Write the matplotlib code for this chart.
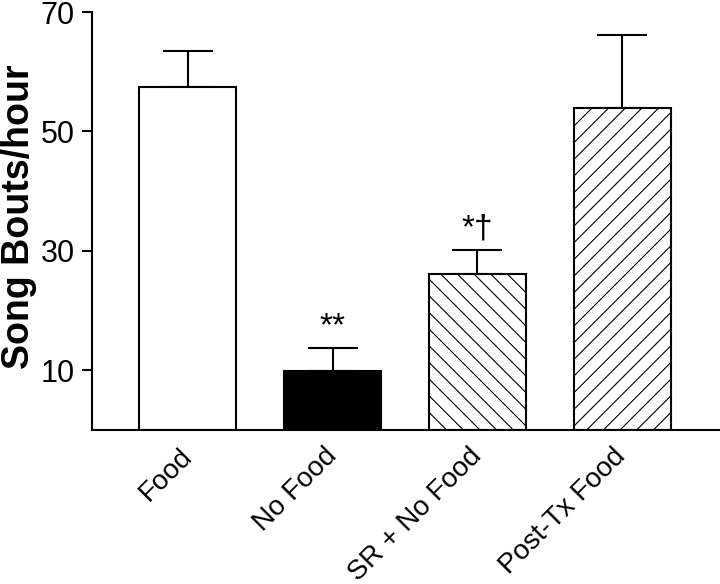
import numpy as np
import matplotlib
matplotlib.use("Agg")
import matplotlib.pyplot as plt

plt.rcParams["font.family"] = ["Liberation Sans", "DejaVu Sans"]
plt.rcParams["hatch.linewidth"] = 0.8

groups = ["Food", "No Food", "SR + No Food", "Post-Tx Food"]
means = [57.4, 9.9, 26.1, 54.0]
sems = [6.1, 3.9, 4.1, 12.2]
marks = ["", "**", "*\u2020", ""]
faces = ["white", "black", "white", "white"]
hatches = [None, None, "\\\\", "//"]

fig = plt.figure(figsize=(7.2, 5.84), dpi=100)
ax = fig.add_axes([92 / 720, 1 - 430 / 584, 628 / 720, 418 / 584])

x = np.arange(len(groups))
for xi, m, s, fc, h in zip(x, means, sems, faces, hatches):
    ax.bar(xi, m, width=0.67, color=fc, edgecolor="black", linewidth=1.5,
           hatch=h, zorder=2)
    ax.errorbar(xi, m, yerr=[[0], [s]], fmt="none", ecolor="black",
                elinewidth=1.5, capsize=18, capthick=1.5, zorder=1)

# significance marks above the error caps
for xi, m, s, t in zip(x, means, sems, marks):
    if t:
        ax.text(xi, m + s + 2.1, t, ha="center", va="baseline", fontsize=24)

ax.set_xlim(-0.663, 3.677)
ax.set_ylim(0, 70)
ax.set_yticks([10, 30, 50, 70])
ax.set_xticks(x)
ax.set_xticklabels(groups, rotation=45, ha="right", va="center",
                   rotation_mode="anchor", fontsize=20)
ax.tick_params(axis="x", length=0, pad=16)
ax.tick_params(axis="y", length=7.5, width=1.5, labelsize=22, pad=5)
ax.set_ylabel("Song Bouts/hour", fontsize=27, fontweight="bold")
ax.yaxis.set_label_coords(-0.088, 0.51)
for side in ["top", "right"]:
    ax.spines[side].set_visible(False)
for side in ["left", "bottom"]:
    ax.spines[side].set_linewidth(1.5)

fig.savefig("out.png", dpi=100)
